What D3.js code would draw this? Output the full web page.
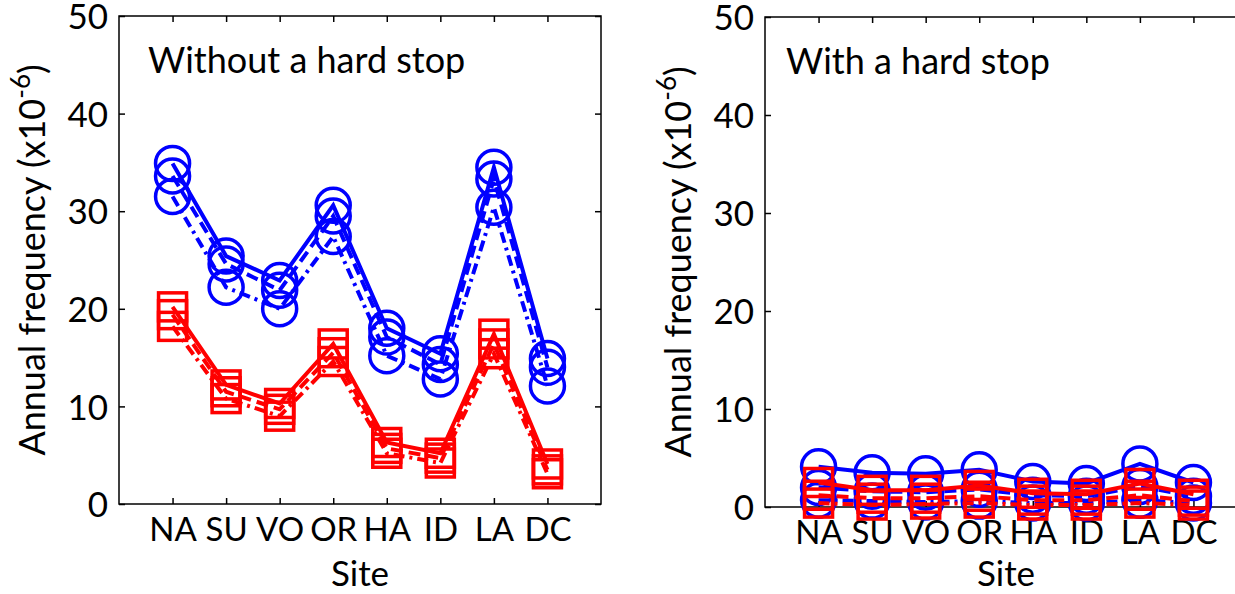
<!DOCTYPE html>
<html><head><meta charset="utf-8">
<script src="https://cdn.jsdelivr.net/npm/d3@7"></script>
<style>
body{margin:0;background:#fff;}
text{font-family:Lato,"Open Sans",sans-serif;fill:#000;}
</style></head>
<body><svg id="c" width="1235" height="594"></svg>
<script>
const sites = ["NA","SU","VO","OR","HA","ID","LA","DC"];
const yTicks = [0,10,20,30,40,50];
// Without a hard stop
const leftBlueSolid   = [34.9,25.4,22.9,30.6,18.0,15.4,34.5,14.9];
const leftBlueDashed  = [33.6,24.6,21.9,29.5,17.1,14.3,33.3,14.0];
const leftBlueDashDot = [31.5,22.2,20.0,27.4,15.2,12.8,30.4,12.1];
const leftRedSolid    = [20.2,12.2,10.3,16.4,6.3,5.2,17.4,4.1];
const leftRedDashed   = [19.4,11.5,9.7,15.5,5.7,4.7,16.4,3.5];
const leftRedDashDot  = [18.2,10.8,9.0,14.6,5.2,4.2,15.4,3.1];
// With a hard stop
const rightBlueSolid   = [4.1,3.5,3.4,3.8,2.6,2.4,4.4,2.5];
const rightBlueDashed  = [2.0,1.6,1.5,1.8,1.2,1.1,2.1,1.1];
const rightBlueDashDot = [0.7,0.6,0.5,0.6,0.4,0.4,0.7,0.4];
const rightRedSolid    = [2.5,1.7,1.7,2.2,1.4,1.3,2.4,1.3];
const rightRedDashed   = [1.2,0.9,0.9,1.1,0.7,0.7,1.2,0.6];
const rightRedDashDot  = [0.4,0.2,0.3,0.4,0.2,0.2,0.4,0.2];

const svg = d3.select("#c");
const dashes = {solid:null, dashed:"12,6", dashdot:"11,5,3,5"};
const FS = 35;

function panel(cfg){
  const g = svg.append("g");
  const x = d3.scaleLinear().domain([0,9]).range([cfg.x0,cfg.x1]);
  const y = d3.scaleLinear().domain([0,50]).range([cfg.y1,cfg.y0]);
  g.append("rect").attr("x",cfg.x0).attr("y",cfg.y0).attr("width",cfg.x1-cfg.x0).attr("height",cfg.y1-cfg.y0)
    .attr("fill","none").attr("stroke","#000").attr("stroke-width",1.5);
  const ax = d3.axisLeft(y).tickValues(yTicks).tickSize(-6).tickPadding(11);
  const ga = g.append("g").attr("transform",`translate(${cfg.x0},0)`).call(ax);
  ga.select(".domain").remove();
  ga.selectAll("text").attr("font-size",FS).attr("font-family","Lato").attr("dy","0.36em");
  const ar = d3.axisRight(y).tickValues(yTicks).tickSize(-6).tickFormat("");
  const gr = g.append("g").attr("transform",`translate(${cfg.x1},0)`).call(ar);
  gr.select(".domain").remove();
  const xi = sites.map((s,i)=>i+1);
  const xb = d3.axisBottom(x).tickValues(xi).tickSize(-6).tickPadding(14).tickFormat((d)=>sites[d-1]);
  const gb = g.append("g").attr("transform",`translate(0,${cfg.y1})`).call(xb);
  gb.select(".domain").remove();
  gb.selectAll("text").attr("font-size",33).attr("font-family","Lato");
  const xt = d3.axisTop(x).tickValues(xi).tickSize(-6).tickFormat("");
  const gt = g.append("g").attr("transform",`translate(0,${cfg.y0})`).call(xt);
  gt.select(".domain").remove();
  svg.selectAll(".tick line").attr("stroke-width",1.5);

  g.append("text").attr("x",(cfg.x0+cfg.x1)/2).attr("y",586).attr("text-anchor","middle")
    .attr("font-size",FS).text("Site");
  const yl = g.append("text").attr("transform",`translate(${cfg.x0-74},${(cfg.y0+cfg.y1)/2}) rotate(-90)`)
    .attr("text-anchor","middle").attr("font-size",36);
  yl.append("tspan").text("Annual frequency (x10");
  yl.append("tspan").attr("dy",-15).attr("font-size",26).text("-6");
  yl.append("tspan").attr("dy",15).text(")");
  g.append("text").attr("x",cfg.x0+cfg.tx).attr("y",cfg.y0+57).attr("font-size",36).text(cfg.title);

  const line = d3.line().x((d,i)=>x(i+1)).y(d=>y(d));
  cfg.series.forEach(s=>{
    g.append("path").datum(s.v).attr("d",line).attr("fill","none").attr("stroke",s.c)
      .attr("stroke-width",4).attr("stroke-dasharray",dashes[s.d]).attr("stroke-linejoin","miter");
    if(s.m==="o"){
      g.selectAll(null).data(s.v).enter().append("circle")
        .attr("cx",(d,i)=>x(i+1)).attr("cy",d=>y(d)).attr("r",17)
        .attr("fill","none").attr("stroke",s.c).attr("stroke-width",3.5);
    } else {
      g.selectAll(null).data(s.v).enter().append("rect")
        .attr("x",(d,i)=>x(i+1)-14).attr("y",d=>y(d)-14).attr("width",28).attr("height",28)
        .attr("fill","none").attr("stroke",s.c).attr("stroke-width",3.5);
    }
  });
}
const B="#0000ff", R="#ff0000";
panel({x0:119,x1:601,y0:16,y1:504,title:"Without a hard stop",tx:29,
  series:[{v:leftBlueSolid,c:B,d:"solid",m:"o"},{v:leftBlueDashed,c:B,d:"dashed",m:"o"},{v:leftBlueDashDot,c:B,d:"dashdot",m:"o"},
          {v:leftRedSolid,c:R,d:"solid",m:"s"},{v:leftRedDashed,c:R,d:"dashed",m:"s"},{v:leftRedDashDot,c:R,d:"dashdot",m:"s"}]});
panel({x0:765,x1:1247,y0:17,y1:507,title:"With a hard stop",tx:21,
  series:[{v:rightBlueSolid,c:B,d:"solid",m:"o"},{v:rightBlueDashed,c:B,d:"dashed",m:"o"},{v:rightBlueDashDot,c:B,d:"dashdot",m:"o"},
          {v:rightRedSolid,c:R,d:"solid",m:"s"},{v:rightRedDashed,c:R,d:"dashed",m:"s"},{v:rightRedDashDot,c:R,d:"dashdot",m:"s"}]});
</script></body></html>
